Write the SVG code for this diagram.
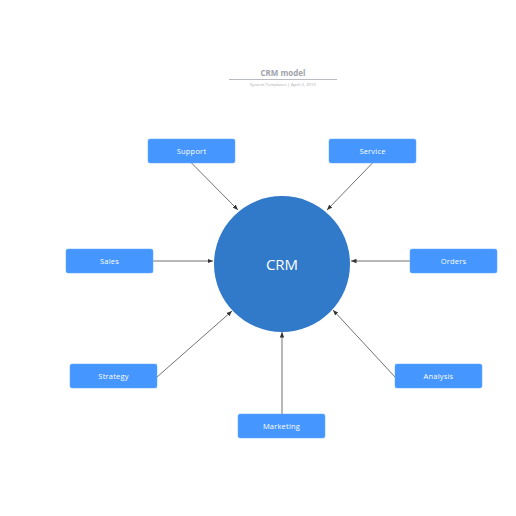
<svg xmlns="http://www.w3.org/2000/svg" width="516" height="516" viewBox="0 0 516 516">
<style>
.box{fill:#4596ff;stroke:#5ea5ff;stroke-width:0.5}
.lbl{font-family:"Open Sans","Liberation Sans",sans-serif;font-size:7.5px;fill:#ffffff;text-anchor:middle;dominant-baseline:central;letter-spacing:0.2px}
.con{stroke:#333333;stroke-width:0.7;fill:none;marker-end:url(#arr)}
</style>
<defs>
<marker id="arr" viewBox="0 0 10 10" refX="10" refY="5" markerWidth="5.5" markerHeight="5.5" orient="auto" markerUnits="userSpaceOnUse">
<path d="M0,1 L10,5 L0,9 z" fill="#333333"/>
</marker>
</defs>
<rect width="516" height="516" fill="#ffffff"/>
<g id="title">
<text x="283" y="76" font-family="'Open Sans','Liberation Sans',sans-serif" font-size="8" font-weight="bold" fill="#a0a4ab" text-anchor="middle">CRM model</text>
<line x1="229" y1="79.5" x2="337" y2="79.5" stroke="#9a9ea6" stroke-width="0.7"/>
<text x="283" y="85.5" font-family="'Open Sans','Liberation Sans',sans-serif" font-size="4.3" fill="#a8abb2" text-anchor="middle">System Templates  |  April 2, 2015</text>
</g>
<g id="connectors">
<line class="con" x1="191.5" y1="163" x2="238" y2="210"/>
<line class="con" x1="372.5" y1="163" x2="327" y2="210"/>
<line class="con" x1="153" y1="261" x2="213" y2="261"/>
<line class="con" x1="410" y1="261" x2="351" y2="261"/>
<line class="con" x1="157" y1="377" x2="232" y2="311"/>
<line class="con" x1="395" y1="377" x2="333" y2="310"/>
<line class="con" x1="282" y1="414" x2="282" y2="332"/>
</g>
<g id="crm">
<circle cx="282" cy="264" r="68" fill="#3179c9"/>
<text x="282" y="264" font-family="'Open Sans','Liberation Sans',sans-serif" font-size="15" fill="#ffffff" text-anchor="middle" dominant-baseline="central">CRM</text>
</g>
<g id="support"><rect class="box" x="148" y="139" width="87" height="24" rx="2"/><text class="lbl" x="191.5" y="151">Support</text></g>
<g id="service"><rect class="box" x="329" y="139" width="87" height="24" rx="2"/><text class="lbl" x="372.5" y="151">Service</text></g>
<g id="sales"><rect class="box" x="66" y="249" width="87" height="24" rx="2"/><text class="lbl" x="109.5" y="261">Sales</text></g>
<g id="orders"><rect class="box" x="410" y="249" width="87" height="24" rx="2"/><text class="lbl" x="453.5" y="261">Orders</text></g>
<g id="strategy"><rect class="box" x="70" y="364" width="87" height="24" rx="2"/><text class="lbl" x="113.5" y="376">Strategy</text></g>
<g id="analysis"><rect class="box" x="395" y="364" width="87" height="24" rx="2"/><text class="lbl" x="438.5" y="376">Analysis</text></g>
<g id="marketing"><rect class="box" x="238" y="414" width="87" height="24" rx="2"/><text class="lbl" x="281.5" y="426">Marketing</text></g>
</svg>
